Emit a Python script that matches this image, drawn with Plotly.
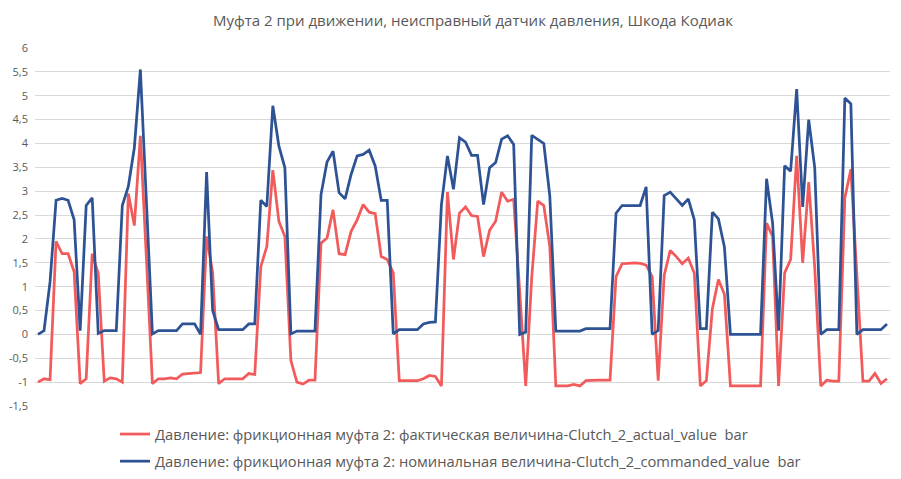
import plotly.graph_objects as go

title_text = "Муфта 2 при движении, неисправный датчик давления, Шкода Кодиак"
name_actual = "Давление: фрикционная муфта 2: фактическая величина-Clutch_2_actual_value  bar"
name_cmd = "Давление: фрикционная муфта 2: номинальная величина-Clutch_2_commanded_value  bar"

actual = [
    -1.0, -0.93, -0.95, 1.95, 1.69, 1.69, 1.31, -1.03, -0.93, 1.69,
    1.28, -0.98, -0.91, -0.93, -1.0, 2.95, 2.28, 4.16, 1.6, -1.03,
    -0.93, -0.93, -0.91, -0.93, -0.83, -0.82, -0.8, -0.8, 2.05, 1.3,
    -1.03, -0.93, -0.93, -0.93, -0.93, -0.82, -0.84, 1.42, 1.84, 3.44,
    2.37, 2.05, -0.55, -1.0, -1.04, -0.96, -0.96, 1.91, 2.02, 2.61,
    1.69, 1.67, 2.16, 2.4, 2.72, 2.56, 2.53, 1.63, 1.57, 1.29,
    -0.97, -0.97, -0.97, -0.97, -0.93, -0.86, -0.88, -1.08, 2.98, 1.57,
    2.54, 2.67, 2.49, 2.47, 1.63, 2.18, 2.37, 2.98, 2.79, 2.83,
    0.9, -1.08, 1.2, 2.79, 2.7, 1.84, -1.08, -1.08, -1.08, -1.05,
    -1.08, -0.97, -0.96, -0.96, -0.96, -0.96, 1.21, 1.48, 1.49, 1.5,
    1.49, 1.45, 1.21, -0.97, 1.24, 1.76, 1.63, 1.48, 1.6, 1.28,
    -1.08, -0.97, 0.54, 1.15, 0.84, -1.08, -1.08, -1.08, -1.08, -1.08,
    -1.08, 2.33, 2.05, -1.08, 1.29, 1.57, 3.74, 1.5, 3.19, 1.4,
    -1.08, -0.96, -0.98, -0.98, 2.86, 3.46, 1.2, -0.98, -0.98, -0.82,
    -1.03, -0.93,
]

commanded = [
    0.0, 0.08, 1.1, 2.81, 2.85, 2.81, 2.4, 0.08, 2.7, 2.86,
    0.02, 0.08, 0.08, 0.08, 2.7, 3.1, 3.91, 5.55, 2.8, 0.01,
    0.08, 0.08, 0.08, 0.08, 0.22, 0.22, 0.22, 0.0, 3.4, 0.5,
    0.1, 0.1, 0.1, 0.1, 0.1, 0.22, 0.22, 2.81, 2.68, 4.79,
    3.95, 3.49, 0.01, 0.07, 0.07, 0.07, 0.07, 2.93, 3.61, 3.84,
    2.97, 2.84, 3.35, 3.74, 3.77, 3.86, 3.53, 2.81, 2.81, 0.01,
    0.1, 0.1, 0.1, 0.1, 0.22, 0.25, 0.26, 2.72, 3.74, 3.04,
    4.12, 4.03, 3.75, 3.75, 2.72, 3.49, 3.6, 4.09, 4.16, 3.98,
    0.0, 0.05, 4.17, 4.08, 4.0, 2.9, 0.07, 0.07, 0.07, 0.07,
    0.07, 0.12, 0.12, 0.12, 0.12, 0.12, 2.54, 2.7, 2.7, 2.7,
    2.7, 3.09, 0.0, 0.08, 2.91, 2.98, 2.84, 2.7, 2.84, 2.4,
    0.12, 0.12, 2.56, 2.42, 1.83, 0.0, 0.0, 0.0, 0.0, 0.0,
    0.0, 3.26, 2.33, 0.08, 3.53, 3.42, 5.14, 2.67, 4.5, 3.49,
    0.0, 0.1, 0.1, 0.1, 4.95, 4.83, 0.0, 0.1, 0.1, 0.1,
    0.1, 0.22,
]

x = list(range(len(actual)))

tick_vals = [6, 5.5, 5, 4.5, 4, 3.5, 3, 2.5, 2, 1.5, 1, 0.5, 0, -0.5, -1, -1.5]
tick_text = ["6", "5,5", "5", "4,5", "4", "3,5", "3", "2,5", "2", "1,5", "1", "0,5", "0", "-0,5", "-1", "-1,5"]

RED = "#F25B5B"
BLUE = "#2E5395"
FONT = "Open Sans"

fig = go.Figure()
fig.add_trace(go.Scatter(x=x, y=actual, mode="lines", name=name_actual,
                         line=dict(color=RED, width=2.75), legendgroup="a"))
fig.add_trace(go.Scatter(x=x, y=commanded, mode="lines", name=name_cmd,
                         line=dict(color=BLUE, width=2.75), legendgroup="b"))

fig.update_layout(
    width=901, height=479,
    margin=dict(l=35, r=11, t=48, b=73, autoexpand=False),
    paper_bgcolor="white", plot_bgcolor="white",
    title=dict(text=title_text, x=473 / 901, xref="container", xanchor="center",
               y=1 - 21 / 479, yref="container",
               yanchor="middle", font=dict(family=FONT, size=15, color="#595959")),
    font=dict(family=FONT, color="#595959"),
    showlegend=True,
    legend=dict(orientation="v", xref="container", yref="container",
                x=115 / 901, y=1 - 418 / 479, xanchor="left", yanchor="top",
                font=dict(family=FONT, size=14.7, color="#595959"),
                tracegroupgap=5, itemwidth=30, bgcolor="rgba(0,0,0,0)"),
    xaxis=dict(range=[-0.5, len(actual) - 0.5], showticklabels=False, showgrid=False,
               zeroline=False, showline=False, ticks=""),
    yaxis=dict(range=[-1.5, 6], tickvals=tick_vals, ticktext=tick_text,
               showgrid=True, gridcolor="#D9D9D9", gridwidth=1, zeroline=False,
               showline=False, ticks="", tickfont=dict(family=FONT, size=11, color="#595959"),
               ticklabelstandoff=6),
)

fig.write_html("out.html")
